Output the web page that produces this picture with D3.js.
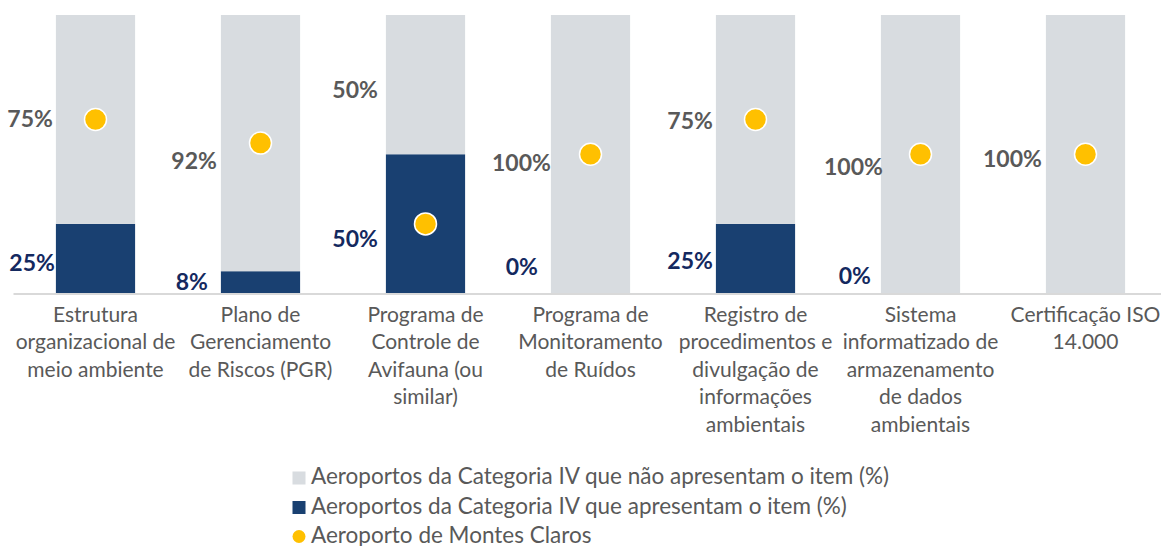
<!DOCTYPE html>
<html>
<head>
<meta charset="utf-8">
<script src="https://cdn.jsdelivr.net/npm/d3@7"></script>
<style>
  body { margin: 0; background: #ffffff; }
  svg { display: block; }
  text { font-family: Lato, "Open Sans", sans-serif; }
</style>
</head>
<body>
<svg id="chart" width="1161" height="546"></svg>
<script>
// Environmental management items checked at Category IV airports
const categories = [
  "Estrutura organizacional de meio ambiente",
  "Plano de Gerenciamento de Riscos (PGR)",
  "Programa de Controle de Avifauna (ou similar)",
  "Programa de Monitoramento de Ruídos",
  "Registro de procedimentos e divulgação de informações ambientais",
  "Sistema informatizado de armazenamento de dados ambientais",
  "Certificação ISO 14.000"
];
// Tick labels, one entry per printed line
const tickLines = [
  ["Estrutura", "organizacional de", "meio ambiente"],
  ["Plano de", "Gerenciamento", "de Riscos (PGR)"],
  ["Programa de", "Controle de", "Avifauna (ou", "similar)"],
  ["Programa de", "Monitoramento", "de Ruídos"],
  ["Registro de", "procedimentos e", "divulgação de", "informações", "ambientais"],
  ["Sistema", "informatizado de", "armazenamento", "de dados", "ambientais"],
  ["Certificação ISO", "14.000"]
];
// Share of Category IV airports with / without the item (%)
const withItem    = [25, 8, 50, 0, 25, 0, 0];
const withoutItem = [75, 92, 50, 100, 75, 100, 100];
// Montes Claros airport marker, placed at the centre of the group it belongs to
const montesClaros = [62.5, 54, 25, 50, 62.5, 50, 50];
// Whether the value label of each bar segment is printed
const showWithLabel    = [true, true, true, true, true, true, false];
const showWithoutLabel = [true, true, true, true, true, true, true];

const legendLabels = [
  "Aeroportos da Categoria IV que não apresentam o item (%)",
  "Aeroportos da Categoria IV que apresentam o item (%)",
  "Aeroporto de Montes Claros"
];

const COLORS = {
  without: "#D8DCE0",
  with: "#194071",
  dot: "#FFC000",
  labelWithout: "#595959",
  labelWith: "#14295F",
  text: "#595959",
  axis: "#D9D9D9"
};

// Label offsets from the left edge of each bar / segment centre (px)
const withoutNudge = [[-3, -0.5], [-4, 18], [-8, 5], [0, 8], [-3, 1.5], [2, 12], [-4, 4]];
const withNudge    = [[-1, 4], [-13, -1], [-8, 14.5], [-13, -26.5], [-3, 2], [-10, -17.5], [0, 0]];

const svg = d3.select("#chart");

const rows = categories.map((c, i) => ({
  category: c,
  with: withItem[i],
  without: withoutItem[i],
  dot: montesClaros[i]
}));

const x = d3.scaleBand()
  .domain(categories)
  .range([13, 1168])
  .paddingInner(0.52)
  .paddingOuter(0.26);

const y = d3.scaleLinear()
  .domain([0, 100])
  .range([293.5, 15]);

const stack = d3.stack().keys(["with", "without"]);
const series = stack(rows);

// Stacked bars
svg.append("g")
  .selectAll("g")
  .data(series)
  .join("g")
  .attr("fill", d => d.key === "with" ? COLORS.with : COLORS.without)
  .selectAll("rect")
  .data(d => d)
  .join("rect")
  .attr("x", d => x(d.data.category))
  .attr("width", x.bandwidth())
  .attr("y", d => y(d[1]))
  .attr("height", d => y(d[0]) - y(d[1]));

// Category axis
const axis = svg.append("g")
  .attr("transform", `translate(0,${y(0)})`)
  .call(d3.axisBottom(x).tickSize(0).tickFormat(""));
axis.select(".domain").attr("stroke", COLORS.axis).attr("stroke-width", 2);
axis.selectAll(".tick text").remove();

const tickGroup = svg.append("g");
categories.forEach((c, i) => {
  const t = tickGroup.append("text")
    .attr("text-anchor", "middle")
    .attr("font-size", 21)
    .attr("fill", COLORS.text)
    .attr("x", x(c) + x.bandwidth() / 2)
    .attr("y", 321.5);
  tickLines[i].forEach((line, k) => {
    t.append("tspan")
      .attr("x", x(c) + x.bandwidth() / 2)
      .attr("dy", k === 0 ? 0 : 27.6)
      .text(line);
  });
});

// Segment value labels
const labels = svg.append("g")
  .attr("font-size", 23)
  .attr("font-weight", 700)
  .attr("text-anchor", "end");

series.forEach(s => {
  const isWith = s.key === "with";
  s.forEach((d, i) => {
    const show = isWith ? showWithLabel[i] : showWithoutLabel[i];
    if (!show) return;
    const nudge = isWith ? withNudge[i] : withoutNudge[i];
    const mid = (y(d[0]) + y(d[1])) / 2;
    labels.append("text")
      .attr("x", x(d.data.category) + nudge[0])
      .attr("y", mid + nudge[1])
      .attr("dy", "0.36em")
      .attr("fill", isWith ? COLORS.labelWith : COLORS.labelWithout)
      .text(d3.format(".0f")(d.data[s.key]) + "%");
  });
});

// Montes Claros markers
svg.append("g")
  .selectAll("circle")
  .data(rows)
  .join("circle")
  .attr("cx", d => x(d.category) + x.bandwidth() / 2)
  .attr("cy", d => y(d.dot))
  .attr("r", 11)
  .attr("fill", COLORS.dot)
  .attr("stroke", "#ffffff")
  .attr("stroke-width", 1.5);

// Legend
const legend = svg.append("g").attr("transform", "translate(292.5,0)");
const legendRowsY = [478, 507.5, 536.5];
legendLabels.forEach((label, i) => {
  const g = legend.append("g").attr("transform", `translate(0,${legendRowsY[i]})`);
  if (i < 2) {
    g.append("rect")
      .attr("x", 0).attr("y", -6.5)
      .attr("width", 13).attr("height", 13)
      .attr("fill", i === 0 ? COLORS.without : COLORS.with);
  } else {
    g.append("circle")
      .attr("cx", 6.5).attr("cy", 0).attr("r", 6.5)
      .attr("fill", COLORS.dot);
  }
  g.append("text")
    .attr("x", 18.5)
    .attr("y", 6)
    .attr("font-size", 22.5)
    .attr("fill", COLORS.text)
    .text(label);
});
</script>
</body>
</html>
